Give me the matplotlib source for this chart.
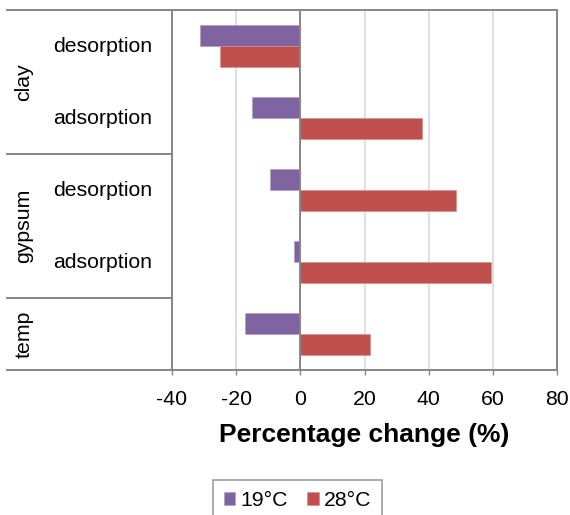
import matplotlib
matplotlib.use("Agg")
import matplotlib.pyplot as plt
from matplotlib.lines import Line2D
from matplotlib.transforms import blended_transform_factory

plt.rcParams["font.family"] = ["Liberation Sans", "DejaVu Sans"]

# data (top to bottom as in the chart)
groups = ["clay", "gypsum", "temp"]
group_sizes = [2, 2, 1]
subcats = ["desorption", "adsorption", "desorption", "adsorption", ""]
t19 = [-31.2, -15.1, -9.4, -2.1, -17.3]
t28 = [-25.0, 37.8, 48.6, 59.4, 21.7]
series = ["19°C", "28°C"]
xticks = [-40, -20, 0, 20, 40, 60, 80]

purple = "#8064A2"
red = "#C0504D"
border = "#868686"
grid = "#d9d9d9"
fs = 15.3

W, H = 570, 515
fig = plt.figure(figsize=(W / 100, H / 100), dpi=100)
ax = fig.add_axes([172 / W, 1 - 370 / H, (557 - 172) / W, 360 / H])

h = 0.285
ypos = list(range(len(subcats)))
ax.barh([y - h / 2 for y in ypos], t19, height=h, color=purple,
        edgecolor="#a898c0", linewidth=0.4, label=series[0], zorder=3)
ax.barh([y + h / 2 for y in ypos], t28, height=h, color=red,
        edgecolor="#d88a88", linewidth=0.4, label=series[1], zorder=3)

ax.set_xlim(-40, 80)
ax.set_ylim(len(subcats) - 0.5, -0.5)
ax.set_xticks(xticks)
ax.set_xticklabels([str(v) for v in xticks], fontsize=fs)
ax.set_yticks([])
ax.tick_params(axis="x", length=3.5, width=1, color=border, pad=11)
for v in xticks[1:-1]:
    ax.axvline(v, color=border if v == 0 else grid, lw=1.4 if v == 0 else 1.2,
               zorder=2 if v != 0 else 4)
for s in ax.spines.values():
    s.set_color(border)
    s.set_linewidth(1.4)

ax.set_xlabel("Percentage change (%)", fontsize=19, fontweight="bold",
              labelpad=10)

# multi-level category axis
tr = blended_transform_factory(fig.transFigure, ax.transData)
for y, lab in zip(ypos, subcats):
    fig.text(53 / W, y, lab, transform=tr, fontsize=fs,
             ha="left", va="center")

start = 0
bounds = [-0.5]
for g, n in zip(groups, group_sizes):
    mid = start + (n - 1) / 2
    fig.text(24 / W, mid, g, transform=tr, fontsize=fs, rotation=90,
             ha="center", va="center")
    start += n
    bounds.append(start - 0.5)

for b in bounds:
    fig.add_artist(Line2D([7 / W, 172 / W], [b, b], transform=tr,
                          color=border, lw=1.4, clip_on=False))

leg = fig.legend(loc="upper left", bbox_to_anchor=(213 / W, 1 - 480 / H),
                 bbox_transform=fig.transFigure, ncol=2, fontsize=fs,
                 frameon=True, fancybox=False, handlelength=0.55,
                 handleheight=0.55, handletextpad=0.25, columnspacing=0.9,
                 borderpad=0.5, borderaxespad=0)
leg.get_frame().set_edgecolor(border)
leg.get_frame().set_linewidth(1.2)

fig.savefig("out.png", dpi=100)
